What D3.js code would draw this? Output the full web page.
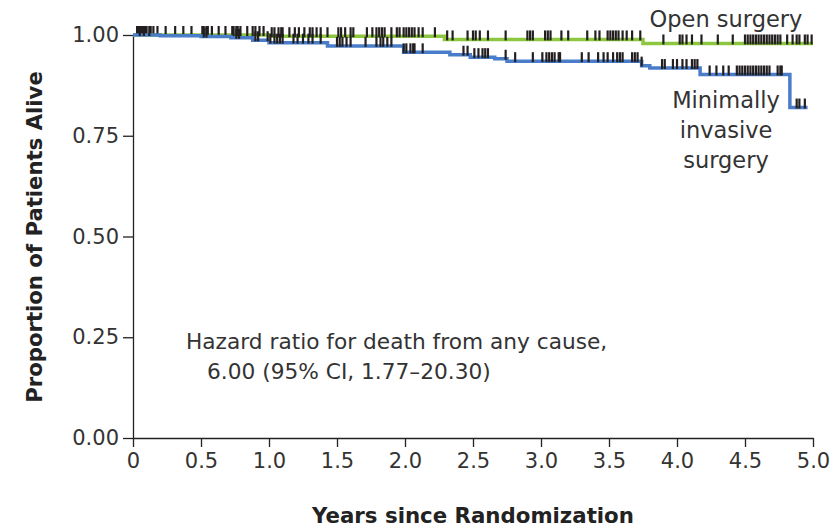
<!DOCTYPE html>
<html>
<head>
<meta charset="utf-8">
<script src="https://cdn.jsdelivr.net/npm/d3@7"></script>
<style>
  body { margin: 0; background: #fff; }
  svg { display: block; font-family: "DejaVu Sans", sans-serif; }
</style>
</head>
<body>
<svg id="km" width="833" height="527"></svg>
<script>
// step points of the Kaplan-Meier curves: [years, proportion alive]
const openSteps = [[0, 1.0], [1.0, 0.997], [2.29, 0.989], [3.75, 0.979]];
const minSteps = [[0, 1.0], [0.2, 0.998], [0.5, 0.996], [0.72, 0.993], [0.88, 0.987],
  [1.0, 0.981], [1.43, 0.973], [1.99, 0.957], [2.33, 0.951], [2.48, 0.945],
  [2.66, 0.941], [2.75, 0.935], [3.74, 0.924], [3.8, 0.918], [4.17, 0.902], [4.83, 0.820]];
const openEnd = 5.0;
const minEnd = 4.96;

// censored observations (years)
const openCensor = [0.03, 0.04, 0.06, 0.07, 0.09, 0.10, 0.13, 0.15, 0.18, 0.24, 0.31, 0.37, 0.43,
  0.51, 0.52, 0.54, 0.55, 0.58, 0.63, 0.68, 0.73, 0.74, 0.76, 0.77, 0.79, 0.84, 0.88, 0.90,
  0.93, 0.96, 1.02, 1.04, 1.07, 1.09, 1.10, 1.15, 1.19, 1.22, 1.26, 1.30, 1.32, 1.35, 1.38,
  1.43, 1.51, 1.53, 1.56, 1.60, 1.62, 1.72, 1.76, 1.79, 1.81, 1.83, 1.85, 1.90, 1.94, 1.96,
  1.99, 2.01, 2.03, 2.05, 2.07, 2.10, 2.13, 2.22, 2.31, 2.35, 2.46, 2.50, 2.52, 2.55, 2.61,
  2.74, 2.90, 2.92, 2.94, 3.03, 3.05, 3.07, 3.15, 3.20, 3.34, 3.40, 3.43, 3.49, 3.51, 3.53,
  3.55, 3.57, 3.60, 3.63, 3.67, 3.73, 3.90, 4.02, 4.04, 4.07, 4.11, 4.18, 4.30, 4.41, 4.50,
  4.52, 4.54, 4.56, 4.58, 4.60, 4.62, 4.64, 4.66, 4.68, 4.70, 4.72, 4.74, 4.76, 4.81, 4.85,
  4.88, 4.90, 4.94, 4.96, 4.99];
const minCensor = [0.05, 0.08, 0.12, 0.52, 0.54, 0.76, 0.78, 0.90, 0.92, 0.99, 1.01, 1.04,
  1.06, 1.08, 1.10, 1.18, 1.21, 1.25, 1.29, 1.32, 1.38, 1.50, 1.52, 1.54, 1.57, 1.60, 1.71,
  1.79, 1.82, 1.84, 1.87, 1.90, 1.99, 2.01, 2.04, 2.06, 2.07, 2.13, 2.43, 2.46, 2.51, 2.54,
  2.57, 2.59, 2.61, 2.74, 2.81, 2.94, 3.01, 3.04, 3.06, 3.08, 3.10, 3.13, 3.14, 3.30, 3.35,
  3.42, 3.46, 3.49, 3.53, 3.56, 3.58, 3.60, 3.67, 3.69, 3.71, 3.74, 3.89, 3.91, 3.97, 4.00,
  4.04, 4.07, 4.11, 4.13, 4.15, 4.24, 4.29, 4.34, 4.38, 4.44, 4.46, 4.48, 4.50, 4.52, 4.54,
  4.56, 4.58, 4.60, 4.62, 4.64, 4.66, 4.68, 4.74, 4.76, 4.77, 4.88, 4.90, 4.94];

const xTicks = [0, 0.5, 1.0, 1.5, 2.0, 2.5, 3.0, 3.5, 4.0, 4.5, 5.0];
const yTicks = [0, 0.25, 0.5, 0.75, 1.0];

const svg = d3.select('#km');

const x = d3.scaleLinear().domain([0, 5]).range([133, 813]);
const y = d3.scaleLinear().domain([0, 1]).range([438, 35]);

const green = '#8dc63f';
const blue = '#4a7dc9';

function styleAxis(g) {
	g.attr('font-family', null).attr('font-size', null);
	g.selectAll('line, path').attr('stroke', '#222').attr('stroke-width', 1.3);
	g.selectAll('text').style('font-size', '21px').style('font-family', '"DejaVu Sans", sans-serif').attr('fill', '#333');
}

// axes
svg.append('g')
	.attr('transform', 'translate(0,438)')
	.call(d3.axisBottom(x).tickValues(xTicks).tickSize(9).tickSizeOuter(0).tickPadding(6)
		.tickFormat(function(d) { return d === 0 ? '0' : d3.format('.1f')(d); }))
	.call(styleAxis);

svg.append('g')
	.attr('transform', 'translate(133,0)')
	.call(d3.axisLeft(y).tickValues(yTicks).tickSize(10).tickSizeOuter(0).tickPadding(4)
		.tickFormat(d3.format('.2f')))
	.call(styleAxis);

// survival at time t from a step list
function survAt(steps, t) {
	let s = steps[0][1];
	steps.forEach(function(p) { if (p[0] <= t) s = p[1]; });
	return s;
}

const line = d3.line()
	.x(function(d) { return x(d[0]); })
	.y(function(d) { return y(d[1]); })
	.curve(d3.curveStepAfter);

function drawCurve(steps, end, color, censor) {
	const pts = steps.concat([[end, steps[steps.length - 1][1]]]);
	svg.append('path')
		.datum(pts)
		.attr('d', line)
		.attr('fill', 'none')
		.attr('stroke', color)
		.attr('stroke-width', 3.5);
	svg.append('g').selectAll('line')
		.data(censor)
		.enter().append('line')
		.attr('x1', function(d) { return x(d); })
		.attr('x2', function(d) { return x(d); })
		.attr('y1', function(d) { return y(survAt(steps, d)) - 9; })
		.attr('y2', function(d) { return y(survAt(steps, d)) + 1; })
		.attr('stroke', '#231f20')
		.attr('stroke-width', 2.2);
}

drawCurve(openSteps, openEnd, green, openCensor);
drawCurve(minSteps, minEnd, blue, minCensor);

// labels
const lab = svg.append('g').attr('fill', '#333').attr('font-size', 22.5).attr('text-anchor', 'middle');
lab.append('text').attr('x', 726).attr('y', 27).text('Open surgery');
lab.append('text').attr('x', 726).attr('y', 108).text('Minimally');
lab.append('text').attr('x', 726).attr('y', 138).text('invasive');
lab.append('text').attr('x', 726).attr('y', 168).text('surgery');

const hr = svg.append('g').attr('fill', '#333').attr('font-size', 21.7);
hr.append('text').attr('x', 186).attr('y', 349).text('Hazard ratio for death from any cause,');
hr.append('text').attr('x', 207).attr('y', 379).text('6.00 (95% CI, 1.77\u201320.30)');

svg.append('text')
	.attr('x', 473).attr('y', 523)
	.attr('text-anchor', 'middle')
	.attr('font-size', 21.3).attr('font-weight', 'bold').attr('fill', '#222')
	.text('Years since Randomization');

svg.append('text')
	.attr('transform', 'translate(42,237) rotate(-90)')
	.attr('text-anchor', 'middle')
	.attr('font-size', 21.2).attr('font-weight', 'bold').attr('fill', '#222')
	.text('Proportion of Patients Alive');
</script>
</body>
</html>
